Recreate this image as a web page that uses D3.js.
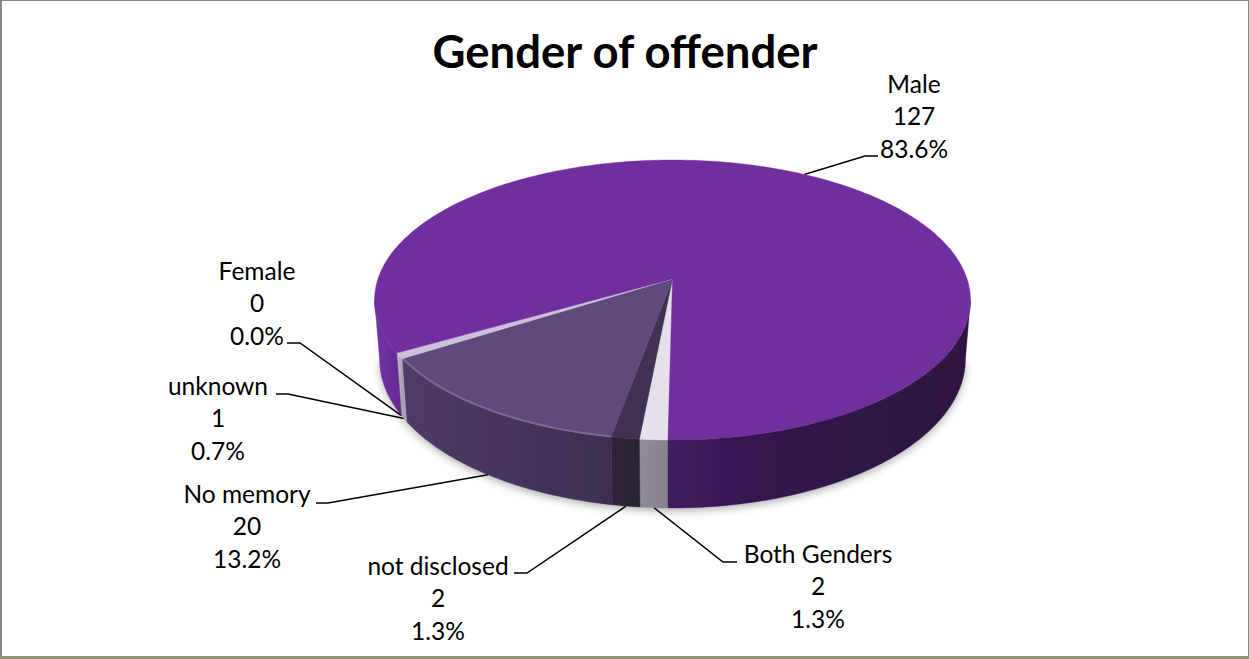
<!DOCTYPE html>
<html><head><meta charset="utf-8">
<style>html,body{margin:0;padding:0;background:#fff}svg{display:block}text{font-family:Lato,"Open Sans",sans-serif;fill:#000}</style>
<script src="https://cdn.jsdelivr.net/npm/d3@7"></script></head>
<body><script>
const categories = ["Both Genders","not disclosed","No memory","unknown","Female","Male"];
const values = [2,2,20,1,0,127];
const titleText = "Gender of offender";
const topColors = ["#e6e0ec","#403152","#604a7b","#ccc1da","#b3a2c7","#6f2f9e"];
const wallColors = [["#908b96","#87838b"],["#2f2238","#2a2033"],["#4f3b68","#3c2f50"],["#c4bcd0","#a9a0b5"],["#aaa","#aaa"],null];
// label layout (centre x, first-line baseline y, leader elbow start/end x,y)
const labelLayout = [
 {x:818,y:562.5,e:[723,562],j:[737,562]},
 {x:438,y:574.5,e:[527,573],j:[514,573]},
 {x:247,y:502.5,e:[328,503],j:[316,503]},
 {x:218,y:394.5,e:[288,394],j:[276,394]},
 {x:257,y:279.5,e:[300,343],j:[287,343]},
 {x:914,y:92.5,e:[865,156],j:[878,156]}
];
const W=1249,H=659, cx=672.5, cy=279, kx=294.6, ky=136.85, p=0.15, d=57.8, shrink=0.017;
const sx=d3.scaleLinear().domain([-1,1]).range([cx-kx,cx+kx]);
const sy=d3.scaleLinear().domain([-1,1]).range([cy+ky,cy-ky]);
function proj(a,r=1,down=0){const u=r*Math.sin(a),v=r*Math.cos(a),w=1+p*v;
  return [cx+(sx(u/w)-cx)*(1-shrink*down), sy(v/w)+down*d/w];}
const rad=x=>x*Math.PI/180;
const start=rad(180.75);
const arcs=d3.pie().sort(null).startAngle(start).endAngle(start+2*Math.PI)(values);
const total=d3.sum(values), pct=d3.format(".1%");
const svg=d3.select("body").append("svg").attr("width",W).attr("height",H);
const defs=svg.append("defs");
defs.append("filter").attr("id","blur").attr("x","-10%").attr("y","-10%").attr("width","120%").attr("height","120%")
  .append("feGaussianBlur").attr("stdDeviation",4);
defs.append("filter").attr("id","soft").attr("x","-2%").attr("y","-2%").attr("width","104%").attr("height","104%")
  .append("feGaussianBlur").attr("stdDeviation",.5);
function grad(id,x1,x2,stops){const g=defs.append("linearGradient").attr("id",id).attr("gradientUnits","userSpaceOnUse")
  .attr("x1",x1).attr("x2",x2).attr("y1",0).attr("y2",0);
  stops.forEach(s=>g.append("stop").attr("offset",s[0]).attr("stop-color",s[1]));return `url(#${id})`;}
// frame
svg.append("rect").attr("width",W).attr("height",H).attr("fill","#fff");
svg.append("rect").attr("x",1).attr("y",.5).attr("width",W-1.5).attr("height",H-3).attr("fill","none").attr("stroke","#868686").attr("stroke-width",1);
svg.append("rect").attr("x",0).attr("y",0).attr("width",2).attr("height",H-2.5).attr("fill","#868686");
svg.append("rect").attr("x",0).attr("y",H-2.5).attr("width",W).attr("height",2.5).attr("fill","#8f9571");
svg.append("text").attr("x",625).attr("y",68).attr("text-anchor","middle").attr("font-size",45.5).attr("font-weight",700).text(titleText);
const line=d3.line();
function samples(a0,a1){const n=Math.max(2,Math.ceil((a1-a0)/rad(1)));return d3.range(n+1).map(i=>a0+(a1-a0)*i/n);}
// the silhouette's widest points: where the projected rim is vertical
const wallMin=Math.acos(-p), wallMax=2*Math.PI-wallMin;
// shadow under body
const sil=samples(wallMin,wallMax);
svg.append("path").attr("d",line(sil.map(a=>{const q=proj(a,1,1);return [q[0],q[1]+3];}))+"Z")
  .attr("fill","#000").attr("opacity",.3).attr("filter","url(#blur)");
// leaders (behind the pie)
const lg=svg.append("g").attr("fill","none").attr("stroke","#000").attr("stroke-width",1.5);
arcs.forEach((s,i)=>{
  const m=(s.startAngle+s.endAngle)/2, front=Math.cos(m)<0;
  const tip=proj(m,1,front?1:0), L=labelLayout[i];
  lg.append("path").attr("d",line([tip,L.e,L.j]));
});
const pie=svg.append("g").attr("filter","url(#soft)");
// walls
arcs.forEach((s,i)=>{
  const ranges=[];
  [0,2*Math.PI].forEach(off=>{
    const a0=Math.max(s.startAngle,wallMin+off), a1=Math.min(s.endAngle,wallMax+off);
    if(a1>a0) ranges.push([a0,a1]);
  });
  ranges.forEach(([a0,a1],k)=>{
    const pts=samples(a0,a1);
    const path=pts.map(a=>proj(a)).concat(pts.slice().reverse().map(a=>proj(a,1,1)));
    let fill;
    if(i===5){
      fill = (proj(a0)[0]<cx)
        ? grad("wm"+k,378,404,[[0,"#7230a4"],[1,"#622a8e"]])
        : grad("wm"+k,668,971,[[0,"#401a60"],[.1,"#3b1a58"],[.45,"#301548"],[1,"#2d1340"]]);
    } else {
      const xs=pts.map(a=>proj(a)[0]);
      fill=grad("w"+i,d3.min(xs),d3.max(xs),[[0,wallColors[i][0]],[1,wallColors[i][1]]]);
    }
    pie.append("path").attr("d",line(path)+"Z").attr("fill",fill).attr("stroke",fill).attr("stroke-width",.4);
  });
});
// top faces
arcs.forEach((s,i)=>{
  if(s.value===0) return;
  const pts=[[cx,cy]].concat(samples(s.startAngle,s.endAngle).map(a=>proj(a)));
  pie.append("path").attr("d",line(pts)+"Z").attr("fill",topColors[i]).attr("stroke",topColors[i]).attr("stroke-width",.4);
});
// bevel highlight on rim of the No memory slice
arcs.forEach((s,i)=>{
  if(s.value===0||i!==2) return;
  const pts=samples(s.startAngle,s.endAngle).map(a=>proj(a,.997));
  pie.append("path").attr("d",line(pts)).attr("fill","none").attr("stroke","#fff").attr("stroke-opacity",.16).attr("stroke-width",2);
});
// labels
arcs.forEach((s,i)=>{
  const L=labelLayout[i];
  const t=svg.append("text").attr("text-anchor","middle").attr("font-size",24.5);
  [categories[i],String(values[i]),pct(values[i]/total)].forEach((str,j)=>
    t.append("tspan").attr("x",L.x).attr("y",L.y+j*32.6).text(str));
});
</script></body></html>
